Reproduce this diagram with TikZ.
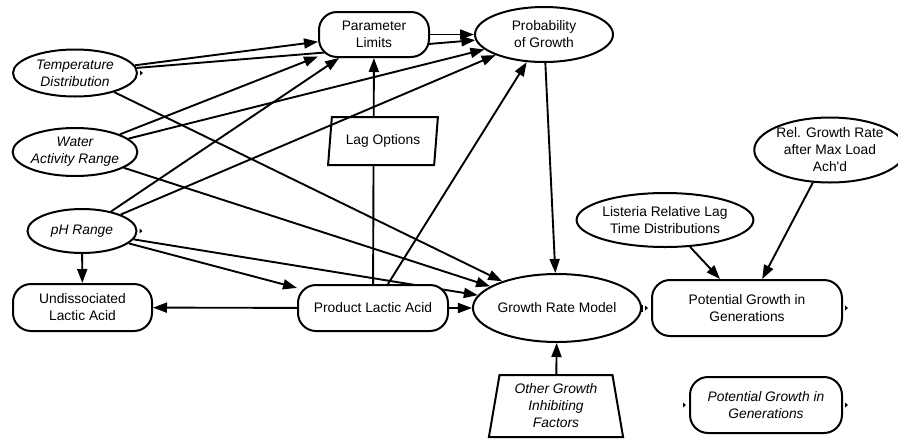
\documentclass[tikz,border=0pt]{standalone}
\usepackage{fontspec}
\setmainfont{Liberation Sans}
\usetikzlibrary{shapes.geometric,arrows.meta,backgrounds}

\begin{document}
\begin{tikzpicture}[x=1pt, y=-1pt,
    font=\fontsize{13.8}{17}\selectfont,
    every node/.style={draw, line width=2pt, fill=white, align=center, inner sep=0pt},
    oval/.style={ellipse},
    rbox/.style={rectangle, rounded corners=18pt},
    ital/.style={font=\fontsize{13.8}{17}\selectfont\itshape},
    lnk/.style={line width=1.9pt, -{Triangle[length=14pt,width=10pt]}}]
    \useasboundingbox (0,0) rectangle (898,440);
    % inputs on the left
    \node[oval, ital, minimum width=124pt, minimum height=47pt] (temp) at (75,73) {Temperature\\Distribution};
    \node[oval, ital, minimum width=124pt, minimum height=48pt] (water) at (75,152) {Water\\Activity Range};
    \node[oval, ital, minimum width=109pt, minimum height=44pt] (ph) at (82,231) {pH Range};
    \node[rbox, minimum width=139pt, minimum height=47pt] (undis) at (82.5,307.5) {Undissociated\\Lactic Acid};
    % middle
    \node[rbox, minimum width=110pt, minimum height=45pt] (plim) at (374,34.5) {Parameter\\Limits};
    \node[oval, minimum width=138pt, minimum height=55pt] (pog) at (544,34.5) {Probability\\of Growth};
    \node[trapezium, trapezium left angle=78, trapezium right angle=102, trapezium stretches=true,
        minimum width=110pt, minimum height=48pt] (lag) at (383,141) {Lag Options};
    \node[rbox, minimum width=150pt, minimum height=46pt] (prod) at (373,308) {Product Lactic Acid};
    \node[oval, minimum width=140pt, minimum height=68pt] (grm) at (557,308) {Growth Rate Model};
    \node[trapezium, ital, trapezium left angle=80, trapezium right angle=80, trapezium stretches=true,
        minimum width=135pt, minimum height=62pt] (other) at (556,406) {Other Growth\\Inhibiting\\Factors};
    % right side
    \node[oval, minimum width=156pt, minimum height=54pt] (lst) at (665,220) {Listeria Relative Lag\\Time Distributions};
    \node[oval, minimum width=125pt, minimum height=65pt] (rel) at (830,150) {Rel. Growth Rate\\after Max Load\\Ach\textquotesingle d};
    \node[rbox, minimum width=190pt, minimum height=56pt] (pgg) at (747,308) {Potential Growth in\\Generations};
    \node[rbox, ital, minimum width=152pt, minimum height=56pt] (pgi) at (766,405) {Potential Growth in\\Generations};

    \begin{scope}[on background layer]
        \draw[lnk] (temp) -- (plim);
        \draw[lnk] (temp) -- (pog);
        \draw[lnk] (temp) -- (grm);
        \draw[lnk] (water) -- (plim);
        \draw[lnk] (water) -- (pog);
        \draw[lnk] (water) -- (grm);
        \draw[lnk] (ph) -- (plim);
        \draw[lnk] (ph) -- (grm);
        \draw[lnk] (ph) -- (prod);
        \draw[lnk] (ph) -- (undis);
        \draw[lnk] (prod) -- (plim);
        \draw[lnk] (prod) -- (pog);
        \draw[lnk] (prod) -- (grm);
        \draw[lnk] (prod) -- (undis);
        \draw[lnk] (plim) -- (pog);
        \draw[lnk] (pog) -- (grm);
        \draw[lnk] (other) -- (grm);
        \draw[lnk] (lst) -- (pgg);
        \draw[lnk] (rel) -- (pgg);
        \draw[line width=1.9pt, -{Square[length=4pt,width=7pt]}, shorten >=8pt] (grm) -- (pgg);
    \end{scope}
    \draw[lnk] (ph) -- (pog);

    % small output marks
    \foreach \p in {temp.east, ph.east, pgg.east, pgi.east}
        \fill[shift={(\p)}] (2,-2.5) -- (5,0) -- (2,2.5) -- cycle;
    \foreach \p in {pgg.west, pgi.west}
        \fill[shift={(\p)}] (-6,-2.5) -- (-3,0) -- (-6,2.5) -- cycle;
\end{tikzpicture}
\end{document}
